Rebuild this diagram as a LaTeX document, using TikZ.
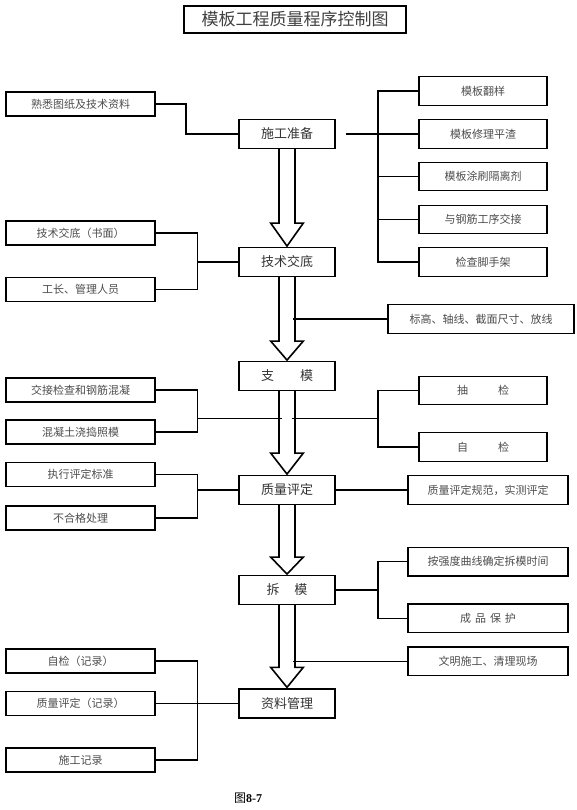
\documentclass[tikz,border=0pt]{standalone}
\usepackage{fontspec}
\setmainfont{Liberation Serif}
\newfontfamily\cjk{Noto Sans CJK SC}
\usetikzlibrary{calc}
\newcommand\bigarr[3]{%
  \draw[bigarrow] ($(#1.south)+(-8,0)$) -- ($(#2.north)+(-8,-#3)$) -- ($(#2.north)+(-16.3,-#3)$)
   -- ($(#2.north)+(0,-1)$) -- ($(#2.north)+(16.3,-#3)$) -- ($(#2.north)+(8,-#3)$) -- ($(#1.south)+(8,0)$);}
\begin{document}
\begin{tikzpicture}[x=1pt,y=-1pt,
  box/.style={draw=black, line width=1.3pt, inner sep=0pt, text=black!70, font=\cjk\fontsize{11}{13}\selectfont},
  lbox/.style={box, minimum width=149pt, minimum height=24pt},
  mbox/.style={box, minimum width=96pt, minimum height=28.5pt, font=\cjk\fontsize{13}{15}\selectfont, text=black!80},
  rbox/.style={box, minimum width=128pt, minimum height=28.5pt},
  qbox/.style={box, minimum width=160pt, minimum height=28.5pt},
  conn/.style={line width=1.2pt},
  bigarrow/.style={line width=1.6pt, line join=miter}]
\useasboundingbox (0,0) rectangle (576,810);
% title
\node[draw, line width=1.1pt, minimum width=222pt, minimum height=27pt, inner sep=0pt,
  font=\cjk\fontsize{17}{19}\selectfont, text=black!75] (T) at (295,19.5) {模板工程质量程序控制图};
\draw[line width=1.8pt] (T.north east) -- (T.south east) -- (T.south west);
% bus coordinates
\coordinate (b1) at (186,0);
\coordinate (bl) at (197.5,0);
\coordinate (br) at (378,0);
\coordinate (sh) at (293,0);
% left boxes
\node[lbox] (L1) at (80.5,104) {熟悉图纸及技术资料};
\node[lbox] (L2) at (80.5,233) {技术交底（书面）};
\node[lbox] (L3) at (80.5,289.5) {工长、管理人员};
\node[lbox] (L4) at (80.5,390) {交接检查和钢筋混凝};
\node[lbox] (L5) at (80.5,432) {混凝土浇捣照模};
\node[lbox] (L6) at (80.5,474.5) {执行评定标准};
\node[lbox] (L7) at (80.5,518) {不合格处理};
\node[lbox] (L8) at (80.5,661) {自检（记录）};
\node[lbox] (L9) at (80.5,703.5) {质量评定（记录）};
\node[lbox] (L10) at (80.5,760) {施工记录};
% main boxes
\node[mbox] (M1) at (287,134) {施工准备};
\node[mbox] (M2) at (287,262) {技术交底};
\node[mbox] (M3) at (287,376) {支\hspace{26pt}模};
\node[mbox] (M4) at (287,490) {质量评定};
\node[mbox] (M5) at (287,590) {拆\hspace{15pt}模};
\node[mbox, minimum height=29pt] (M6) at (287,703.5) {资料管理};
% right boxes
\node[rbox] (R1) at (483,91) {模板翻样};
\node[rbox] (R2) at (483,134) {模板修理平渣};
\node[rbox] (R3) at (483,176.5) {模板涂刷隔离剂};
\node[rbox] (R4) at (483,219.5) {与钢筋工序交接};
\node[rbox] (R5) at (483,262) {检查脚手架};
\node[box, minimum width=186pt, minimum height=28.5pt] (S) at (481,319) {标高、轴线、截面尺寸、放线};
\node[rbox] (R6) at (483,390.5) {抽\hspace{30pt}检};
\node[rbox] (R7) at (483,447) {自\hspace{30pt}检};
\node[qbox] (R8) at (488,490) {质量评定规范，实测评定};
\node[qbox] (R9) at (488,561.7) {按强度曲线确定拆模时间};
\node[qbox] (R10) at (488,618.3) {成\hspace{4pt}品\hspace{4pt}保\hspace{4pt}护};
\node[qbox] (R11) at (488,661.2) {文明施工、清理现场};
% caption
\node[font=\fontsize{12}{14}\selectfont, inner sep=0pt] (C) at (248,798) {{\cjk 图}\textbf{8-7}};
% big arrows
\bigarr{M1}{M2}{24}
\bigarr{M2}{M3}{20}
\bigarr{M3}{M4}{22}
\bigarr{M4}{M5}{18}
\bigarr{M5}{M6}{21}
% connectors: 施工准备
\draw[conn] (L1.east) -- (L1.east -| b1) |- (M1.west);
\draw[conn] ($(M1.east)+(10,0)$) -- (M1.east -| br);
\draw[conn] (R1.west) -- (R1.west -| br) -- (R5.west -| br) -- (R5.west);
\draw[conn] (R2.west) -- (R2.west -| br);
\draw[conn] (R3.west) -- (R3.west -| br);
\draw[conn] (R4.west) -- (R4.west -| br);
% 技术交底
\draw[conn] (L2.east) -- (L2.east -| bl) -- (L3.east -| bl) -- (L3.east);
\draw[conn] (M2.west) -- (M2.west -| bl);
\draw[conn] (S.west -| sh) -- (S.west);
% 支模
\coordinate (jl) at (282,418.3);
\coordinate (jr) at (292,418.3);
\draw[conn] (L4.east) -- (L4.east -| bl) -- (L5.east -| bl) -- (L5.east);
\draw[conn] (jl -| bl) -- (jl);
\draw[conn] (jr) -- (jr -| br);
\draw[conn] (R6.west) -- (R6.west -| br) -- (R7.west -| br) -- (R7.west);
% 质量评定
\draw[conn] (L6.east) -- (L6.east -| bl) -- (L7.east -| bl) -- (L7.east);
\draw[conn] (M4.west) -- (M4.west -| bl);
\draw[conn] (M4.east) -- (R8.west);
% 拆模
\draw[conn] (M5.east) -- (M5.east -| br);
\draw[conn] (R9.west) -- (R9.west -| br) -- (R10.west -| br) -- (R10.west);
\draw[conn] (R11.west -| sh) -- (R11.west);
% 资料管理
\draw[conn] (L8.east) -- (L8.east -| bl) -- (L10.east -| bl) -- (L10.east);
\draw[conn] (L9.east) -- (M6.west);
\end{tikzpicture}
\end{document}
